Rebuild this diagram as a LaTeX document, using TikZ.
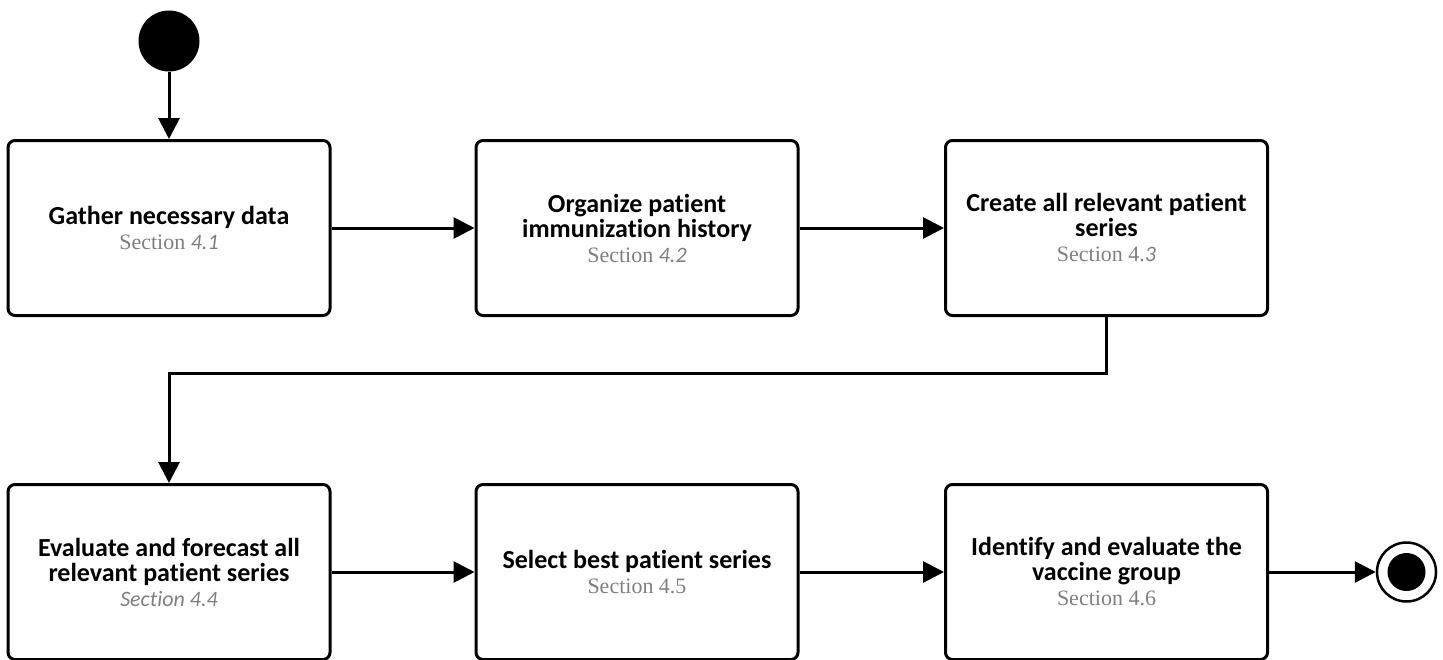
\documentclass[tikz,border=0pt]{standalone}
\usepackage{fontspec}
\setmainfont{Liberation Serif}
\newfontfamily\titlefont[Ligatures={NoCommon}]{Carlito}
\usetikzlibrary{arrows.meta}
\definecolor{secgray}{HTML}{7F7F7F}
\newcommand{\secline}{\color{secgray}\fontsize{22}{25}\selectfont\rmfamily\mdseries}
\newcommand{\numit}[1]{{\titlefont\mdseries\itshape #1}}
\begin{document}
\begin{tikzpicture}[x=1pt,y=-1pt,
  actbox/.style={draw=black, line width=3pt, rounded corners=7pt, minimum width=322pt, minimum height=175pt, align=center, inner sep=0pt,
    font=\titlefont\bfseries\fontsize{26}{25}\selectfont},
  arr/.style={line width=3pt, -{Triangle[length=21pt,width=21pt]}},
]
\useasboundingbox (0,0) rectangle (1443,659);
\node[actbox] (b1) at (169,228) {Gather necessary data\\{\secline Section \numit{4.1}}};
\node[actbox] (b2) at (637,228) {Organize patient\\immunization history\\{\secline Section \numit{4.2}}};
\node[actbox] (b3) at (1106.5,228) {Create all relevant patient\\series\\{\secline Section 4.\numit{3}}};
\node[actbox] (b4) at (169,572) {Evaluate and forecast all\\relevant patient series\\{\secline\titlefont\mdseries\itshape Section 4.4}};
\node[actbox] (b5) at (637,572) {Select best patient series\\{\secline Section 4.5}};
\node[actbox] (b6) at (1106.5,572) {Identify and evaluate the\\vaccine group\\{\secline Section 4.6}};
\node[circle, fill=black, minimum size=61pt, inner sep=0pt] (start) at (169,41) {};
\node[circle, draw=black, line width=2.5pt, minimum size=59pt, inner sep=0pt] (end) at (1406.5,572) {};
\node[circle, fill=black, minimum size=38pt, inner sep=0pt] (endin) at (end.center) {};
\coordinate (bend) at (169,373);
\draw[arr] (start) -- (b1);
\draw[arr] (b1) -- (b2);
\draw[arr] (b2) -- (b3);
\draw[arr] (b3.south) |- (bend) -- (b4.north);
\draw[arr] (b4) -- (b5);
\draw[arr] (b5) -- (b6);
\draw[arr] (b6.east) -- (end.west);
\end{tikzpicture}
\end{document}
